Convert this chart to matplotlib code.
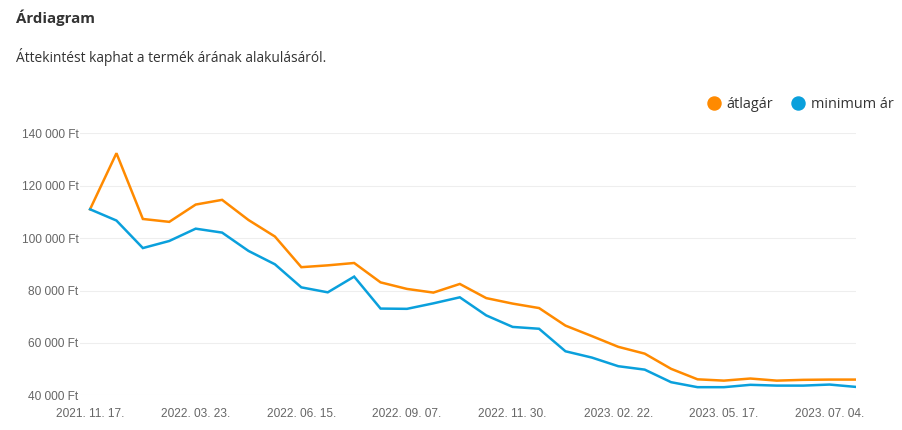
import matplotlib
matplotlib.use('Agg')
import matplotlib.pyplot as plt
from matplotlib.lines import Line2D

# Adatok
datumok = ['2021. 11. 17.', '2021. 12. 15.', '2022. 01. 12.', '2022. 02. 16.',
           '2022. 03. 23.', '2022. 04. 13.', '2022. 05. 04.', '2022. 05. 25.',
           '2022. 06. 15.', '2022. 07. 06.', '2022. 07. 27.', '2022. 08. 17.',
           '2022. 09. 07.', '2022. 09. 28.', '2022. 10. 19.', '2022. 11. 09.',
           '2022. 11. 30.', '2022. 12. 21.', '2023. 01. 11.', '2023. 02. 01.',
           '2023. 02. 22.', '2023. 03. 15.', '2023. 04. 05.', '2023. 04. 26.',
           '2023. 05. 17.', '2023. 05. 29.', '2023. 06. 10.', '2023. 06. 22.',
           '2023. 07. 04.', '2023. 07. 16.']
atlagar = [111000, 132400, 107300, 106200, 112800, 114600, 106900, 100600,
           88900, 89600, 90500, 83100, 80600, 79200, 82500, 77100,
           75000, 73300, 66600, 62600, 58500, 55900, 50100, 46100,
           45600, 46400, 45600, 45900, 46000, 46000]
minimum_ar = [111000, 106700, 96200, 98900, 103600, 102100, 95100, 90000,
              81200, 79300, 85300, 73100, 73000, 75100, 77400, 70500,
              66100, 65400, 56800, 54400, 51100, 49800, 45000, 43100,
              43100, 44000, 43700, 43700, 44100, 43200]
y_ticks = [40000, 60000, 80000, 100000, 120000, 140000]

NARANCS = '#ff8a00'
KEK     = '#0aa0dc'

def ft(v):
	return '{:,} Ft'.format(v).replace(',', ' ')

fig = plt.figure(figsize=(9.02, 4.30), dpi=100)
fig.text(16/902, 1-18/430, 'Árdiagram', family='Open Sans', weight='bold',
         fontsize=10.8, color='#333333', va='center', ha='left')
fig.text(16/902, 1-57/430, 'Áttekintést kaphat a termék árának alakulásáról.',
         family='Open Sans', fontsize=9.9, color='#333333', va='center', ha='left')

ax = fig.add_axes((80/902, 1-395.3/430, 776/902, (395.3-133.3)/430))
x = list(range(len(datumok)))
ax.plot(x, atlagar, color=NARANCS, lw=1.8, solid_joinstyle='miter')
ax.plot(x, minimum_ar, color=KEK, lw=1.8, solid_joinstyle='miter')

ax.set_xlim(-0.38, len(datumok)-1)
ax.set_ylim(40000, 140000)
ax.set_yticks(y_ticks)
ax.set_yticklabels([ft(v) for v in y_ticks])
ax.set_xticks(x[::4])
ax.set_xticklabels(datumok[::4])
for s in ax.spines.values():
	s.set_visible(False)
ax.grid(axis='y', color='#eeeeee', lw=0.8)
ax.set_axisbelow(True)
ax.tick_params(length=0, labelsize=8.6, labelcolor='#666666', pad=1)
ax.tick_params(axis='x', pad=9)
for t in ax.get_xticklabels() + ax.get_yticklabels():
	t.set_family('Liberation Sans')

# Jelmagyarazat
h = [Line2D([], [], ls='', marker='o', ms=9.4, color=NARANCS),
     Line2D([], [], ls='', marker='o', ms=9.4, color=KEK)]
fig.legend(h, ['átlagár', 'minimum ár'], loc='center right',
           bbox_to_anchor=(901/902, 1-104.5/430), ncol=2, frameon=False,
           prop={'family': 'Open Sans', 'size': 10.4}, labelcolor='#333333',
           handletextpad=0.4, columnspacing=1.2, handlelength=1.0, borderpad=0)

plt.savefig('out.png', dpi=100)
